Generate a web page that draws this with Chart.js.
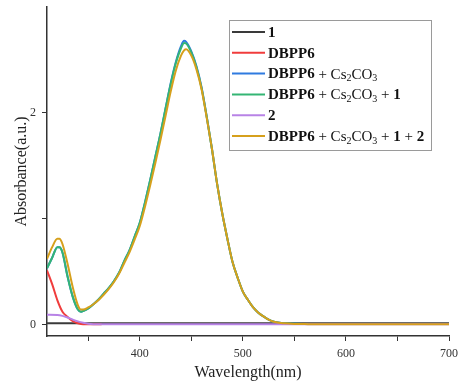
<!DOCTYPE html>
<html lang="en">
<head>
    <meta charset="UTF-8">
    <title>Absorbance spectra</title>
    <script src="https://cdn.jsdelivr.net/npm/chart.js"></script>
    <style>
        body { margin: 0; background: #fff; }
        canvas { display: block; }
    </style>
</head>
<body>
    <canvas id="myChart" width="459" height="392"></canvas>

    <script>
        // wavelength grid (nm) for the DBPP6 spectra
        const wlMain = [310, 315, 320, 322, 325, 330, 335, 340, 343, 345, 350, 355, 360, 365, 370, 375, 380, 385, 390, 395,
                        400, 405, 410, 415, 420, 425, 430, 435, 440, 443, 445, 450, 455, 460, 465, 470, 475, 480, 485, 490,
                        495, 500, 505, 510, 515, 520, 525, 530, 540, 550, 563];
        const dbppCs = [0.53, 0.63, 0.73, 0.73, 0.68, 0.45, 0.26, 0.14, 0.12, 0.125, 0.15, 0.19, 0.235, 0.29, 0.345, 0.41, 0.49, 0.60, 0.70, 0.83,
                        0.96, 1.15, 1.36, 1.58, 1.80, 2.04, 2.28, 2.48, 2.63, 2.68, 2.67, 2.58, 2.44, 2.24, 1.96, 1.66, 1.33, 1.05, 0.81, 0.59,
                        0.44, 0.31, 0.23, 0.16, 0.11, 0.075, 0.045, 0.025, 0.01, 0.006, 0.004];
        const dbppCs1 = [0.53, 0.63, 0.73, 0.73, 0.68, 0.45, 0.26, 0.14, 0.12, 0.125, 0.15, 0.19, 0.235, 0.29, 0.345, 0.41, 0.49, 0.60, 0.70, 0.83,
                         0.96, 1.15, 1.36, 1.58, 1.80, 2.04, 2.27, 2.47, 2.61, 2.66, 2.655, 2.57, 2.43, 2.23, 1.96, 1.66, 1.33, 1.05, 0.81, 0.59,
                         0.44, 0.31, 0.23, 0.16, 0.11, 0.075, 0.045, 0.025, 0.01, 0.005, 0.003];
        const wlFull = wlMain.concat([600, 700]);
        const dbppCs12 = [0.62, 0.73, 0.81, 0.81, 0.76, 0.57, 0.35, 0.18, 0.14, 0.14, 0.16, 0.19, 0.23, 0.28, 0.335, 0.40, 0.48, 0.58, 0.68, 0.80,
                          0.93, 1.11, 1.31, 1.52, 1.74, 1.97, 2.20, 2.40, 2.54, 2.59, 2.60, 2.54, 2.41, 2.22, 1.95, 1.66, 1.33, 1.05, 0.81, 0.59,
                          0.44, 0.31, 0.23, 0.16, 0.11, 0.075, 0.045, 0.025, 0.01, 0.004, 0.002, 0, 0];

        const wlDbpp = [310, 315, 320, 325, 330, 335, 340, 345, 363];
        const dbpp = [0.51, 0.38, 0.23, 0.12, 0.07, 0.03, 0.01, 0, 0];

        const wlTwo = [310, 320, 325, 330, 335, 340, 345, 350, 360, 700];
        const two = [0.09, 0.088, 0.08, 0.065, 0.045, 0.028, 0.015, 0.006, 0, 0];

        const wlOne = [310, 700];
        const one = [0.01, 0.01];

        const xTicks = [350, 400, 450, 500, 550, 600, 650, 700];
        const yTicks = [0, 1, 2];

        const serif = '"Liberation Serif", "Times New Roman", serif';
        const axisColor = '#333';

        function pts(xs, ys) {
            return xs.map((x, i) => ({ x: x, y: ys[i] }));
        }

        // legend rows: text pieces (b = bold, sub = subscript)
        const cs = [{ t: ' + Cs' }, { t: '2', sub: true }, { t: 'CO' }, { t: '3', sub: true }];
        const legendRows = [
            { color: '#3a3a3a', parts: [{ t: '1', b: true }] },
            { color: '#f03c3c', parts: [{ t: 'DBPP6', b: true }] },
            { color: '#2f7be0', parts: [{ t: 'DBPP6', b: true }].concat(cs) },
            { color: '#34b574', parts: [{ t: 'DBPP6', b: true }].concat(cs, [{ t: ' + ' }, { t: '1', b: true }]) },
            { color: '#b883e6', parts: [{ t: '2', b: true }] },
            { color: '#d6a01c', parts: [{ t: 'DBPP6', b: true }].concat(cs, [{ t: ' + ' }, { t: '1', b: true }, { t: ' + ' }, { t: '2', b: true }]) }
        ];

        const legendPlugin = {
            id: 'richLegend',
            afterDraw(chart) {
                const ctx = chart.ctx;
                ctx.save();
                ctx.strokeStyle = '#9a9a9a';
                ctx.lineWidth = 1;
                ctx.strokeRect(229.5, 20.5, 202, 130);
                legendRows.forEach((row, i) => {
                    const y = 32 + i * 20.8;
                    ctx.strokeStyle = row.color;
                    ctx.lineWidth = 2;
                    ctx.beginPath();
                    ctx.moveTo(232, y);
                    ctx.lineTo(265, y);
                    ctx.stroke();
                    let x = 268;
                    ctx.fillStyle = '#111';
                    ctx.textBaseline = 'middle';
                    row.parts.forEach(p => {
                        ctx.font = p.sub ? '10px ' + serif : (p.b ? 'bold ' : '') + '15px ' + serif;
                        ctx.fillText(p.t, x, p.sub ? y + 5 : y + 1);
                        x += ctx.measureText(p.t).width;
                    });
                });
                ctx.restore();
            }
        };

        const whiteBg = {
            id: 'whiteBg',
            beforeDraw(chart) {
                const ctx = chart.ctx;
                ctx.save();
                ctx.fillStyle = '#fff';
                ctx.fillRect(0, 0, chart.width, chart.height);
                ctx.restore();
            }
        };

        // keep the plot area fixed: drop the extra room Chart.js reserves for edge labels
        function noEdgePad(s) {
            s.paddingLeft = 0;
            s.paddingRight = 0;
            s.paddingTop = 0;
            s.paddingBottom = 0;
        }

        function line(label, data, color, order) {
            return {
                label: label,
                data: data,
                borderColor: color,
                backgroundColor: color,
                borderWidth: 2,
                pointRadius: 0,
                fill: false,
                cubicInterpolationMode: 'monotone',
                order: order
            };
        }

        new Chart(document.getElementById('myChart').getContext('2d'), {
            type: 'line',
            data: {
                datasets: [
                    line('1', pts(wlOne, one), legendRows[0].color, 5),
                    line('DBPP6', pts(wlDbpp, dbpp), legendRows[1].color, 4),
                    line('DBPP6 + Cs2CO3', pts(wlMain, dbppCs), legendRows[2].color, 3),
                    line('DBPP6 + Cs2CO3 + 1', pts(wlMain, dbppCs1), legendRows[3].color, 2),
                    line('2', pts(wlTwo, two), legendRows[4].color, 1),
                    line('DBPP6 + Cs2CO3 + 1 + 2', pts(wlFull, dbppCs12), legendRows[5].color, 0)
                ]
            },
            options: {
                responsive: false,
                animation: false,
                devicePixelRatio: 1,
                layout: { padding: { top: 7, right: 10, left: 0, bottom: 0 } },
                plugins: { legend: { display: false }, tooltip: { enabled: false } },
                scales: {
                    x: {
                        type: 'linear',
                        min: 310,
                        max: 700,
                        afterBuildTicks: s => { s.ticks = xTicks.map(v => ({ value: v })); },
                        afterFit: s => { s.height = 56; noEdgePad(s); },
                        ticks: {
                            autoSkip: false,
                            maxRotation: 0,
                            padding: 6,
                            color: axisColor,
                            font: { family: serif, size: 12 },
                            callback: v => (v % 100 === 0 ? String(v) : '')
                        },
                        grid: { drawOnChartArea: false, drawTicks: true, tickLength: 5, color: axisColor, lineWidth: 1 },
                        border: { color: axisColor, width: 1.5 },
                        title: {
                            display: true,
                            text: 'Wavelength(nm)',
                            color: '#222',
                            font: { family: serif, size: 16 },
                            padding: { top: 0, bottom: 10 }
                        }
                    },
                    y: {
                        type: 'linear',
                        min: -0.11,
                        max: 3.0,
                        afterBuildTicks: s => { s.ticks = yTicks.map(v => ({ value: v })); },
                        afterFit: s => { s.width = 47; noEdgePad(s); },
                        ticks: {
                            padding: 6,
                            color: axisColor,
                            font: { family: serif, size: 12 },
                            callback: v => (v === 1 ? '' : String(v))
                        },
                        grid: { drawOnChartArea: false, drawTicks: true, tickLength: 5, color: axisColor, lineWidth: 1 },
                        border: { color: axisColor, width: 1.5 },
                        title: {
                            display: true,
                            text: 'Absorbance(a.u.)',
                            color: '#222',
                            font: { family: serif, size: 16 },
                            padding: { top: 12, bottom: 0 }
                        }
                    }
                }
            },
            plugins: [whiteBg, legendPlugin]
        });
    </script>
</body>
</html>
